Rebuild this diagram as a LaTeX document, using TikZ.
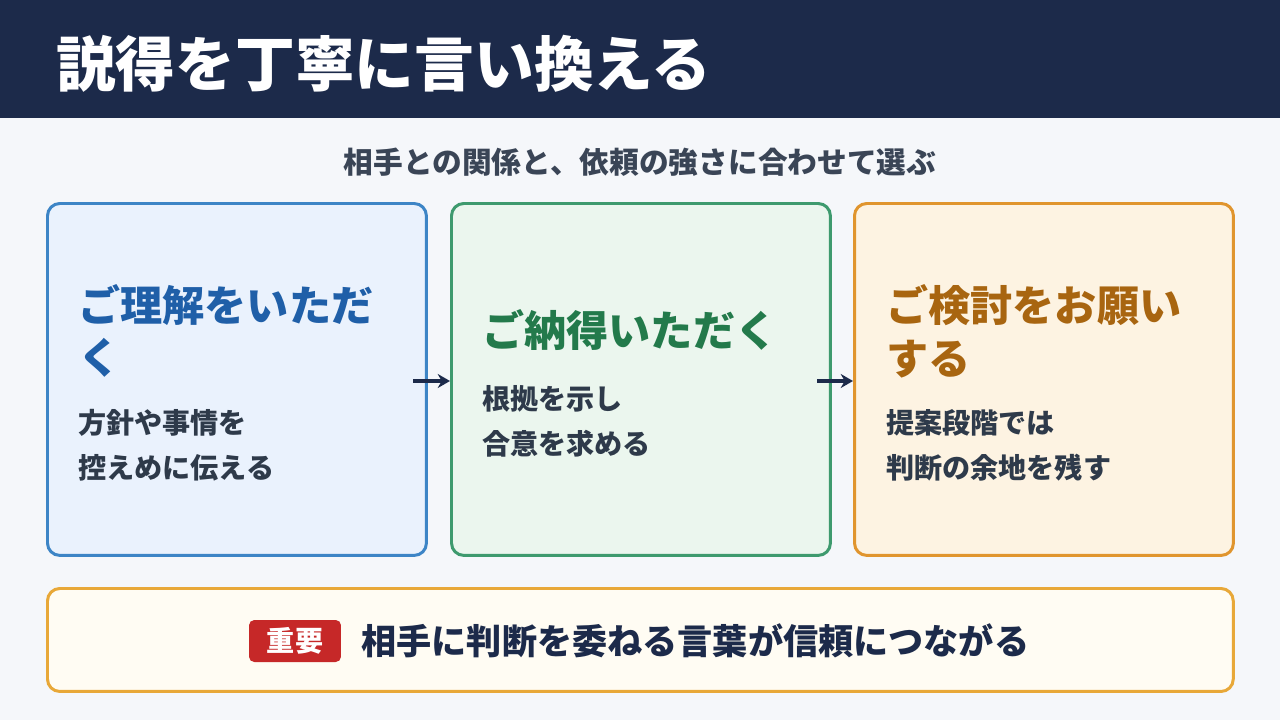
\documentclass[tikz,border=0pt]{standalone}
\usepackage{fontspec}
\setmainfont{Noto Sans CJK JP}
\usetikzlibrary{positioning,arrows.meta}
\definecolor{navy}{HTML}{1C2A4A}
\definecolor{bgcol}{HTML}{F5F7FA}
\definecolor{subgray}{HTML}{3A4556}
\definecolor{bodytext}{HTML}{2E3A4A}
\definecolor{blueline}{HTML}{3D85C6}
\definecolor{bluefill}{HTML}{EAF2FD}
\definecolor{bluetext}{HTML}{1F5FA8}
\definecolor{greenline}{HTML}{3E9A6E}
\definecolor{greenfill}{HTML}{EBF6EE}
\definecolor{greentext}{HTML}{237A4B}
\definecolor{orangeline}{HTML}{E0952E}
\definecolor{orangefill}{HTML}{FDF3E2}
\definecolor{orangetext}{HTML}{A86510}
\definecolor{noteline}{HTML}{E8A838}
\definecolor{notefill}{HTML}{FFFCF3}
\definecolor{badgered}{HTML}{C62828}

\begin{document}
\begin{tikzpicture}[x=0.02cm, y=-0.02cm]
		\tikzstyle{card}=[draw, line width=1.7pt, rounded corners=7pt, anchor=north west, minimum width=7.58cm, minimum height=7.04cm]
		\tikzstyle{cardtitle}=[anchor=west, font=\fontsize{24}{30}\selectfont\bfseries, align=left]
		\tikzstyle{cardbody}=[anchor=west, text=bodytext, font=\fontsize{16}{25.5}\selectfont\bfseries, align=left]
		\tikzstyle{flow}=[-{Stealth[length=7pt,width=8pt]}, draw=navy, line width=1.8pt]
		
		\useasboundingbox (0,0) rectangle (1280,720);
		\fill[bgcol] (0,0) rectangle (1280,720);
		\fill[navy] (0,0) rectangle (1280,118);
		\node [anchor=west, text=white, font=\fontsize{34}{36}\selectfont\bfseries] (title) at (50,64) {説得を丁寧に言い換える};
		\node [text=subgray, font=\fontsize{16.9}{20}\selectfont\bfseries] (subtitle) at (640,162) {相手との関係と、依頼の強さに合わせて選ぶ};
		
		\node [card, draw=blueline, fill=bluefill] (B1) at (46,202) {};
		\node [card, draw=greenline, fill=greenfill] (B2) at (450,202) {};
		\node [card, draw=orangeline, fill=orangefill] (B3) at (853,202) {};
		
		\node [cardtitle, text=bluetext] (T1) at (72,331) {ご理解をいただ\\く};
		\node [cardbody] (D1) at (72,445) {方針や事情を\\控えめに伝える};
		\node [cardtitle, text=greentext] (T2) at (476,330) {ご納得いただく};
		\node [cardbody] (D2) at (476,421) {根拠を示し\\合意を求める};
		\node [cardtitle, text=orangetext] (T3) at (880,331) {ご検討をお願い\\する};
		\node [cardbody] (D3) at (880,445) {提案段階では\\判断の余地を残す};
		
		\coordinate (a1) at (413,381);
		\coordinate (a2) at (817,381);
		\draw [flow] (a1) -- (a1 -| B2.west);
		\draw [flow] (a2) -- (a2 -| B3.west);
		
		\node [draw=noteline, fill=notefill, line width=1.7pt, rounded corners=7pt, anchor=north west, minimum width=23.72cm, minimum height=2.06cm] (note) at (46,587) {};
		\node [fill=badgered, text=white, rounded corners=3pt, minimum width=1.84cm, minimum height=0.84cm, font=\fontsize{16}{18}\selectfont\bfseries] (badge) at (295,641) {重要};
		\node [right=14 of badge, text=navy, font=\fontsize{20}{24}\selectfont\bfseries] (notetext) {相手に判断を委ねる言葉が信頼につながる};
		
		\end{tikzpicture}
\end{document}
